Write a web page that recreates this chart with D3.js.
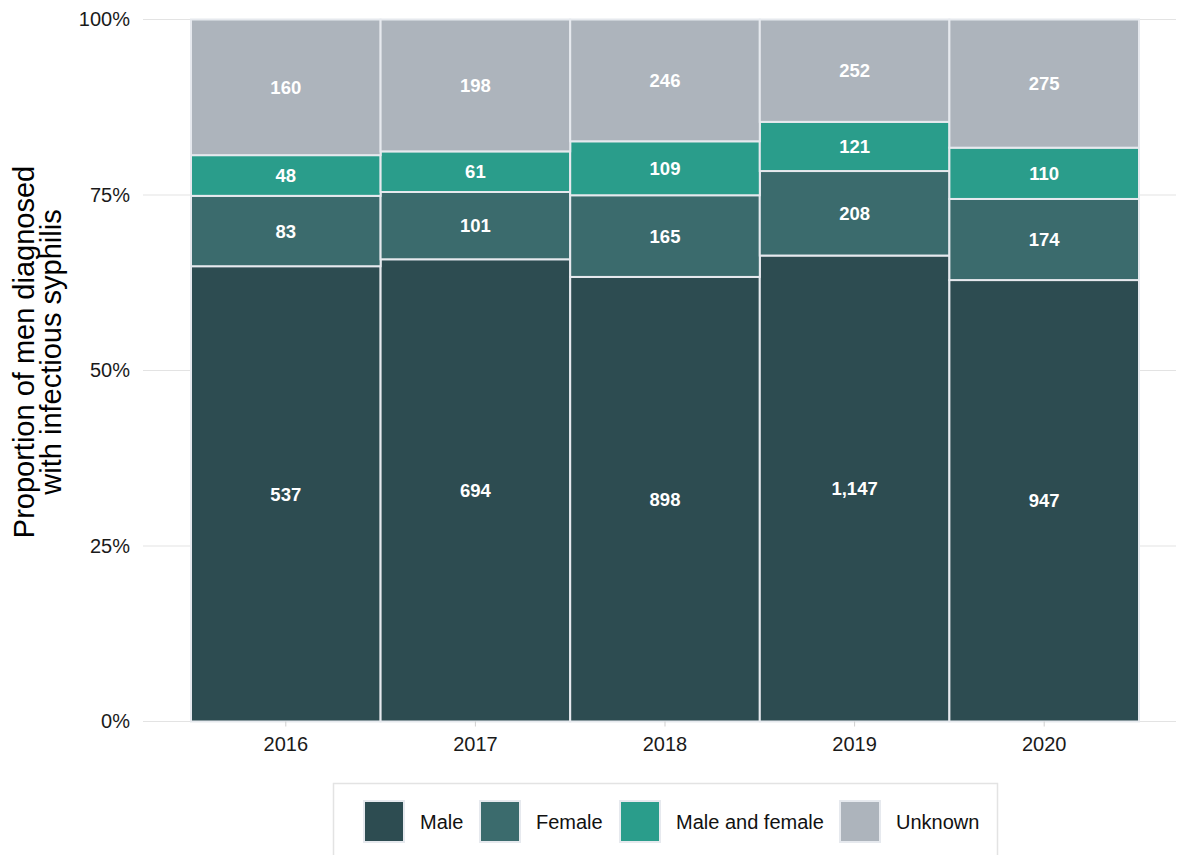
<!DOCTYPE html>
<html>
<head>
<meta charset="utf-8">
<script src="https://cdn.jsdelivr.net/npm/d3@7/dist/d3.min.js"></script>
<style>
  html, body { margin: 0; padding: 0; background: #ffffff; }
  svg { display: block; font-family: "Liberation Sans", Arial, sans-serif; }
</style>
</head>
<body>
<svg id="chart" width="1179" height="855"></svg>
<script>
// Diagnosis years
const years = ["2016", "2017", "2018", "2019", "2020"];

// Counts of men diagnosed, by sex of partners
const male          = [537, 694, 898, 1147, 947];
const female        = [83, 101, 165, 208, 174];
const maleAndFemale = [48, 61, 109, 121, 110];
const unknown       = [160, 198, 246, 252, 275];

const seriesNames = ["Male", "Female", "Male and female", "Unknown"];
const seriesColors = ["#2d4c51", "#3b6b6d", "#2a9d8b", "#adb4bc"];
const yTicks = [0, 0.25, 0.5, 0.75, 1];

const rows = years.map((y, i) => ({
  year: y,
  "Male": male[i],
  "Female": female[i],
  "Male and female": maleAndFemale[i],
  "Unknown": unknown[i]
}));

const svg = d3.select("#chart");

const plotLeft = 143, plotRight = 1176;
const x = d3.scaleBand().domain(years).range([191, 1139]).paddingInner(0).paddingOuter(0);
const y = d3.scaleLinear().domain([0, 1]).range([721.5, 19.5]);

// Horizontal gridlines
svg.append("g")
  .selectAll("line")
  .data(yTicks)
  .join("line")
  .attr("x1", plotLeft).attr("x2", plotRight)
  .attr("y1", d => y(d)).attr("y2", d => y(d))
  .attr("stroke", "#e3e3e3").attr("stroke-width", 1);

// Stacked proportions
const stack = d3.stack()
  .keys(seriesNames)
  .offset(d3.stackOffsetExpand);
const layers = stack(rows);
const color = d3.scaleOrdinal().domain(seriesNames).range(seriesColors);

const layerG = svg.append("g")
  .selectAll("g")
  .data(layers)
  .join("g")
  .attr("fill", d => color(d.key));

layerG.selectAll("rect")
  .data(d => d)
  .join("rect")
  .attr("x", d => x(d.data.year))
  .attr("width", x.bandwidth())
  .attr("y", d => y(d[1]))
  .attr("height", d => y(d[0]) - y(d[1]))
  .attr("stroke", "#e6e9ee")
  .attr("stroke-width", 2);

// Count labels within each segment
const fmt = d3.format(",");
layerG.selectAll("text")
  .data(d => d.map(v => ({ v, key: d.key })))
  .join("text")
  .attr("x", d => x(d.v.data.year) + x.bandwidth() / 2)
  .attr("y", d => (y(d.v[0]) + y(d.v[1])) / 2)
  .attr("dy", "0.36em")
  .attr("text-anchor", "middle")
  .attr("fill", "#ffffff")
  .attr("font-weight", "bold")
  .attr("font-size", 18.5)
  .text(d => fmt(d.v.data[d.key]));

// Y axis
const yAxis = svg.append("g")
  .attr("transform", `translate(${plotLeft},0)`)
  .call(d3.axisLeft(y).tickValues(yTicks).tickFormat(d3.format(".0%")).tickSize(0).tickPadding(13));
yAxis.select(".domain").remove();
yAxis.selectAll("text").attr("font-size", 20).attr("fill", "#1a1a1a").attr("font-family", "Liberation Sans, Arial, sans-serif");

// X axis
const xAxis = svg.append("g")
  .attr("transform", `translate(0,${y(0)})`)
  .call(d3.axisBottom(x).tickSize(5).tickPadding(10));
xAxis.select(".domain").remove();
xAxis.selectAll("line").attr("stroke", "#cfcfcf");
xAxis.selectAll("text").attr("font-size", 20).attr("fill", "#1a1a1a").attr("font-family", "Liberation Sans, Arial, sans-serif");

// Y axis title
const yTitle = svg.append("text")
  .attr("transform", "translate(0,352) rotate(-90)")
  .attr("text-anchor", "middle")
  .attr("font-size", 29)
  .attr("fill", "#000");
yTitle.append("tspan").attr("x", 0).attr("y", 34).text("Proportion of men diagnosed");
yTitle.append("tspan").attr("x", 0).attr("y", 61).text("with infectious syphilis");

// Legend
const legend = svg.append("g");
legend.append("rect")
  .attr("x", 333.5).attr("y", 783.5)
  .attr("width", 664).attr("height", 80)
  .attr("fill", "#fff").attr("stroke", "#e3e3e3").attr("stroke-width", 1.5);

const keyX = [364, 480, 620, 840];
const items = legend.selectAll("g.item")
  .data(seriesNames)
  .join("g")
  .attr("class", "item")
  .attr("transform", (d, i) => `translate(${keyX[i]},801)`);
items.append("rect")
  .attr("width", 40).attr("height", 41)
  .attr("fill", d => color(d))
  .attr("stroke", "#e6e9ee").attr("stroke-width", 2);
items.append("text")
  .attr("x", 56).attr("y", 21)
  .attr("dy", "0.36em")
  .attr("font-size", 20)
  .attr("fill", "#111")
  .text(d => d);
</script>
</body>
</html>
